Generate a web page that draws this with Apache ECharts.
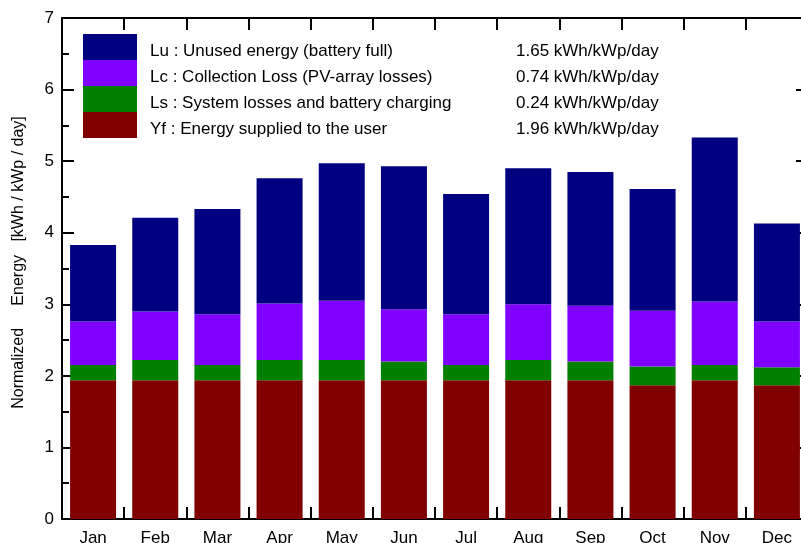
<!DOCTYPE html>
<html>
<head>
<meta charset="utf-8">
<script src="https://cdn.jsdelivr.net/npm/echarts@6/dist/echarts.min.js"></script>
<style>
html,body{margin:0;padding:0;background:#fff;}
#chart{width:801px;height:543px;}
</style>
</head>
<body>
<div id="chart"></div>
<script>
const months = ['Jan','Feb','Mar','Apr','May','Jun','Jul','Aug','Sep','Oct','Nov','Dec'];
// segment heights, kWh/kWp/day
const Yf = [1.94,1.94,1.94,1.94,1.94,1.94,1.94,1.94,1.94,1.87,1.94,1.87];
const Ls = [0.21,0.28,0.21,0.28,0.28,0.26,0.21,0.28,0.26,0.26,0.21,0.25];
const Lc = [0.61,0.68,0.71,0.79,0.83,0.73,0.71,0.78,0.78,0.78,0.89,0.64];
const Lu = [1.07,1.31,1.47,1.75,1.92,2.00,1.68,1.90,1.87,1.70,2.29,1.37];
const seriesKeys = ['Lu','Lc','Ls','Yf'];
const legendLabels = {
  Lu: 'Lu : Unused energy (battery full)',
  Lc: 'Lc : Collection Loss (PV-array losses)',
  Ls: 'Ls : System losses and battery charging',
  Yf: 'Yf : Energy supplied to the user'
};
const legendValues = {
  Lu: '1.65 kWh/kWp/day',
  Lc: '0.74 kWh/kWp/day',
  Ls: '0.24 kWh/kWp/day',
  Yf: '1.96 kWh/kWp/day'
};
const yTicks = [0,1,2,3,4,5,6,7];

const FONT = 'Liberation Sans, Arial, sans-serif';
const chart = echarts.init(document.getElementById('chart'), null, {renderer:'canvas'});

const axisLineStyle = {show:true, onZero:false, lineStyle:{color:'#000', width:2}};
const yAxisBase = {
  type:'value', min:yTicks[0], max:yTicks[yTicks.length-1], interval:1,
  axisLine: axisLineStyle,
  axisTick:{show:true, inside:true, length:12, lineStyle:{color:'#000', width:2}},
  minorTick:{show:true, splitNumber:2, length:7, lineStyle:{color:'#000', width:2}},
  splitLine:{show:false},
};
const xTick = {show:true, inside:true, length:12, lineStyle:{color:'#000', width:2}};

const dataMap = {Lu, Lc, Ls, Yf};
const colors = {Lu:'#000080', Lc:'#8000ff', Ls:'#008000', Yf:'#800000'};
const stackOrder = ['Yf','Ls','Lc','Lu'];

chart.setOption({
  animation:false,
  backgroundColor:'#fff',
  grid:{left:62, top:18, width:746, height:501, containLabel:false, outerBoundsMode:'none'},
  legend:{
    orient:'vertical', left:83, top:34, padding:0,
    itemWidth:54, itemHeight:26, itemGap:0,
    icon:'rect',
    data: seriesKeys,
    selectedMode:false,
    formatter: function(name){
      return '{s|}{a|' + legendLabels[name] + '}{b|' + legendValues[name] + '}';
    },
    textStyle:{
      fontFamily:FONT, fontSize:17, color:'#000',
      rich:{
        s:{width:8, fontSize:17, fontFamily:FONT},
        a:{width:366, fontSize:17, fontFamily:FONT, color:'#000', padding:[8,0,0,0]},
        b:{fontSize:17, fontFamily:FONT, color:'#000', padding:[8,0,0,0]}
      }
    }
  },
  xAxis:[
    {type:'category', data:months, position:'bottom',
      axisLine: axisLineStyle, axisTick:{show:false}, splitLine:{show:false},
      axisLabel:{show:true, margin:11, color:'#000', fontFamily:FONT, fontSize:17}},
    {type:'category', data:months, position:'bottom',
      axisLine: axisLineStyle, axisTick: xTick, splitLine:{show:false},
      axisLabel:{show:false}},
    {type:'category', data:months, position:'top',
      axisLine: axisLineStyle, axisTick: xTick, splitLine:{show:false},
      axisLabel:{show:false}}
  ],
  yAxis:[
    Object.assign({}, yAxisBase, {position:'left',
      axisLabel:{show:true, margin:8, color:'#000', fontFamily:FONT, fontSize:17},
      name:'Normalized     Energy   [kWh / kWp / day]',
      nameLocation:'middle', nameGap:35, nameRotate:90,
      nameTextStyle:{color:'#000', fontFamily:FONT, fontSize:16, padding:[0,0,0,12]}}),
    Object.assign({}, yAxisBase, {position:'right', axisLabel:{show:false}})
  ],
  series: stackOrder.map(k => ({
    name:k, type:'bar', stack:'total', xAxisIndex:0, yAxisIndex:0,
    barCategoryGap:'26%',
    data:dataMap[k],
    itemStyle:{color:colors[k]},
    emphasis:{disabled:true}
  }))
});
</script>
</body>
</html>
